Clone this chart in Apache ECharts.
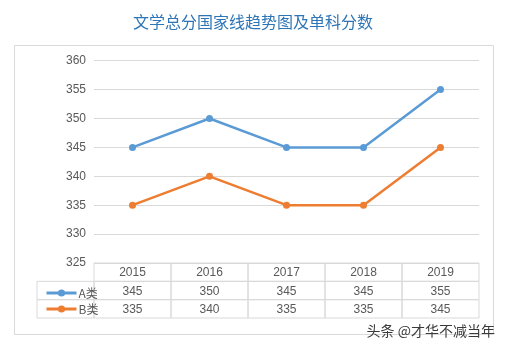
<!DOCTYPE html>
<html>
<head>
<meta charset="utf-8">
<script src="https://cdn.jsdelivr.net/npm/echarts@6/dist/echarts.min.js"></script>
<style>
  html, body { margin: 0; padding: 0; background: #fff; }
  #chart { width: 506px; height: 350px; }
</style>
</head>
<body>
<div id="chart"></div>
<script>
// Data
const years = ['2015', '2016', '2017', '2018', '2019'];
const seriesNames = ['A类', 'B类'];
const scoresA = [345, 350, 345, 345, 355];
const scoresB = [335, 340, 335, 335, 345];
const yTicks = { min: 325, max: 360, step: 5 };

const BLUE = '#5b9bd5';
const ORANGE = '#ed7d31';
const GRID_LINE = '#d9d9d9';
const TEXT = '#595959';
const FONT = '"Liberation Sans", "Noto Sans CJK SC", sans-serif';
const LABEL_COL_W = 57;

// Table cells: header row of years, then one row per series
const rows = [years, scoresA.map(String), scoresB.map(String)];
const cells = [];
rows.forEach((row, r) => row.forEach((txt, c) => cells.push({ value: [c, r], text: txt })));

const chart = echarts.init(document.getElementById('chart'));

chart.setOption({
  animation: false,
  title: {
    text: '文学总分国家线趋势图及单科分数',
    left: 'center',
    top: 9,
    textStyle: { color: '#2e75b6', fontSize: 16, fontWeight: 'normal', fontFamily: '"Noto Sans CJK SC", sans-serif' }
  },
  legend: {
    orient: 'vertical',
    left: 40,
    top: 282,
    itemWidth: 30,
    itemHeight: 9,
    itemGap: 4,
    data: seriesNames,
    lineStyle: { width: 3 },
    textStyle: { color: TEXT, fontSize: 12, fontFamily: '"Noto Sans CJK SC", sans-serif', padding: [0, 0, 0, -3] }
  },
  grid: [
    { left: 94, right: 27, top: 60.7, bottom: 87 },
    { left: 94, right: 27, top: 263, height: 55 }
  ],
  xAxis: [
    {
      gridIndex: 0, type: 'category', data: years, boundaryGap: true,
      axisLine: { show: false }, axisTick: { show: false }, axisLabel: { show: false }
    },
    {
      gridIndex: 1, type: 'category', data: years,
      show: false
    }
  ],
  yAxis: [
    {
      gridIndex: 0, type: 'value', min: yTicks.min, max: yTicks.max, interval: yTicks.step,
      axisLine: { show: false }, axisTick: { show: false },
      axisLabel: { color: TEXT, fontSize: 12, fontFamily: FONT, margin: 8 },
      splitLine: { lineStyle: { color: GRID_LINE, width: 1 } }
    },
    {
      gridIndex: 1, type: 'category', data: ['年份'].concat(seriesNames), inverse: true,
      show: false
    }
  ],
  series: [
    {
      name: seriesNames[0], type: 'line', data: scoresA,
      xAxisIndex: 0, yAxisIndex: 0,
      symbol: 'circle', symbolSize: 7,
      itemStyle: { color: BLUE },
      lineStyle: { color: BLUE, width: 2.5 }
    },
    {
      name: seriesNames[1], type: 'line', data: scoresB,
      xAxisIndex: 0, yAxisIndex: 0,
      symbol: 'circle', symbolSize: 7,
      itemStyle: { color: ORANGE },
      lineStyle: { color: ORANGE, width: 2.5 }
    },
    {
      name: 'table', type: 'custom',
      xAxisIndex: 1, yAxisIndex: 1,
      data: cells.map(d => d.value),
      silent: true,
      renderItem: function (params, api) {
        const c = api.value(0), r = api.value(1);
        const center = api.coord([c, r]);
        const size = api.size([1, 1]);
        const w = size[0], h = size[1];
        const x0 = center[0] - w / 2, y0 = center[1] - h / 2;
        const children = [
          {
            type: 'rect',
            shape: { x: x0, y: y0, width: w, height: h },
            style: { fill: 'none', stroke: GRID_LINE, lineWidth: 1 }
          },
          {
            type: 'text',
            style: {
              x: center[0], y: center[1] + 1,
              text: cells[params.dataIndex].text,
              align: 'center', verticalAlign: 'middle',
              fill: TEXT, fontSize: 12, fontFamily: FONT
            }
          }
        ];
        if (c === 0 && r > 0) {
          children.push({
            type: 'rect',
            shape: { x: x0 - LABEL_COL_W, y: y0, width: LABEL_COL_W, height: h },
            style: { fill: 'none', stroke: GRID_LINE, lineWidth: 1 }
          });
        }
        return { type: 'group', children: children };
      },
      z: 1
    }
  ],
  graphic: [
    {
      type: 'rect', silent: true, z: -1,
      shape: { x: 14.5, y: 45.5, width: 479, height: 289 },
      style: { fill: 'none', stroke: '#d9d9d9', lineWidth: 1 }
    },
    {
      type: 'text', right: 11, top: 324, silent: true,
      style: {
        text: '头条 @才华不减当年',
        fill: '#3a3a3a', fontSize: 14,
        fontFamily: '"Noto Sans CJK SC", sans-serif'
      }
    }
  ]
});
</script>
</body>
</html>
